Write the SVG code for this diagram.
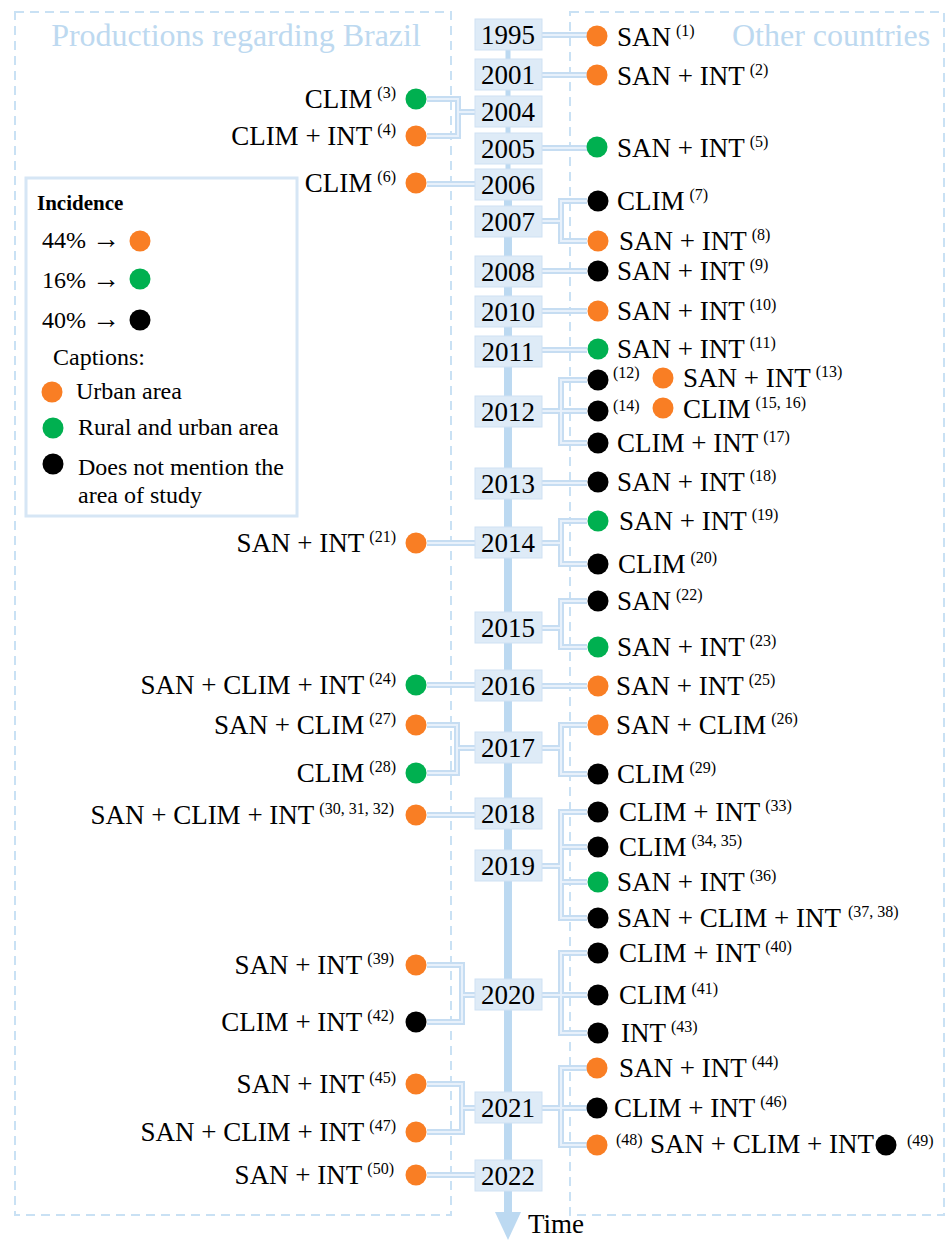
<svg xmlns="http://www.w3.org/2000/svg" xmlns:xlink="http://www.w3.org/1999/xlink" width="946" height="1240" viewBox="0 0 946 1240">
<style>
text{font-family:"Liberation Serif","Tinos","Times New Roman","DejaVu Serif","Noto Serif",serif;fill:#000}
.lb{font-size:27px}
.end{text-anchor:end}
.sup{font-size:16px}
.yt{font-size:27px;text-anchor:middle}
.yb{fill:#deebf7;stroke:#cfe1f3;stroke-width:1}
.o{fill:#f97e24}
.g{fill:#00b050}
.k{fill:#000}
.panel{fill:none;stroke:#c9e1f4;stroke-width:2;stroke-dasharray:9 6}
.title{font-size:32px;fill:#bdd9f0;text-anchor:middle}
.lg{font-size:24px}
.arr{font-size:28px}
</style>
<rect width="946" height="1240" fill="#fff"/>
<g id="panels">
<rect class="panel" x="15" y="12" width="436" height="1203"/>
<rect class="panel" x="570" y="12" width="374" height="1203"/>
<text class="title" x="236" y="46">Productions regarding Brazil</text>
<text class="title" x="831" y="46">Other countries</text>
</g>
<g id="axis">
<line x1="508" y1="20" x2="508" y2="200" stroke="#bcd9f1" stroke-width="5"/>
<line x1="508" y1="200" x2="508" y2="1215" stroke="#bcd9f1" stroke-width="8"/>
<polygon points="495,1212 521,1212 508,1240" fill="#bcd9f1"/>
<text class="lb" x="528" y="1233">Time</text>
</g>
<g id="connectors" fill="none" stroke="#c6ddf2" stroke-width="6">
<g id="connPaths">
<path d="M427 99 H458 V136 H427 M458 112 H475"/>
<path d="M427 184 H475"/>
<path d="M427 543 H475"/>
<path d="M427 685 H475"/>
<path d="M427 725 H457 V773 H427 M457 748 H475"/>
<path d="M427 815 H475"/>
<path d="M427 965 H462 V1022 H427 M462 995 H475"/>
<path d="M427 1084 H462 V1132 H427 M462 1108 H475"/>
<path d="M427 1175 H475"/>
<path d="M542 35 H587"/>
<path d="M542 75 H587"/>
<path d="M542 148 H587"/>
<path d="M542 221 H561 M587 201 H561 V241 H587"/>
<path d="M542 271 H587"/>
<path d="M542 311 H587"/>
<path d="M542 350 H587"/>
<path d="M542 411 H587 M587 380 H561 V443 H587"/>
<path d="M542 483 H587"/>
<path d="M542 543 H561 M587 521 H561 V564 H587"/>
<path d="M542 628 H561 M587 601 H561 V647 H587"/>
<path d="M542 686 H587"/>
<path d="M542 748 H561 M587 725 H561 V774 H587"/>
<path d="M542 866 H561 M587 812 H561 V918 H587 M561 847 H587 M561 882 H587"/>
<path d="M542 995 H587 M587 953 H561 V1033 H587"/>
<path d="M542 1108 H587 M587 1068 H561 V1145 H587"/>
</g>
<use xlink:href="#connPaths" stroke="#e8f1fb" stroke-width="2"/>
</g>
<g id="years">
<g id="y1995"><rect class="yb" x="475" y="19" width="67" height="31"/><text class="yt" x="508" y="44">1995</text></g>
<g id="y2001"><rect class="yb" x="475" y="59" width="67" height="31"/><text class="yt" x="508" y="84">2001</text></g>
<g id="y2004"><rect class="yb" x="475" y="96" width="67" height="31"/><text class="yt" x="508" y="121">2004</text></g>
<g id="y2005"><rect class="yb" x="475" y="133" width="67" height="31"/><text class="yt" x="508" y="158">2005</text></g>
<g id="y2006"><rect class="yb" x="475" y="169" width="67" height="31"/><text class="yt" x="508" y="194">2006</text></g>
<g id="y2007"><rect class="yb" x="475" y="206" width="67" height="31"/><text class="yt" x="508" y="231">2007</text></g>
<g id="y2008"><rect class="yb" x="475" y="256" width="67" height="31"/><text class="yt" x="508" y="281">2008</text></g>
<g id="y2010"><rect class="yb" x="475" y="296" width="67" height="31"/><text class="yt" x="508" y="321">2010</text></g>
<g id="y2011"><rect class="yb" x="475" y="336" width="67" height="31"/><text class="yt" x="508" y="361">2011</text></g>
<g id="y2012"><rect class="yb" x="475" y="396" width="67" height="31"/><text class="yt" x="508" y="421">2012</text></g>
<g id="y2013"><rect class="yb" x="475" y="468" width="67" height="31"/><text class="yt" x="508" y="493">2013</text></g>
<g id="y2014"><rect class="yb" x="475" y="527" width="67" height="31"/><text class="yt" x="508" y="552">2014</text></g>
<g id="y2015"><rect class="yb" x="475" y="612" width="67" height="31"/><text class="yt" x="508" y="637">2015</text></g>
<g id="y2016"><rect class="yb" x="475" y="670" width="67" height="31"/><text class="yt" x="508" y="695">2016</text></g>
<g id="y2017"><rect class="yb" x="475" y="732" width="67" height="31"/><text class="yt" x="508" y="757">2017</text></g>
<g id="y2018"><rect class="yb" x="475" y="798" width="67" height="31"/><text class="yt" x="508" y="823">2018</text></g>
<g id="y2019"><rect class="yb" x="475" y="850" width="67" height="31"/><text class="yt" x="508" y="875">2019</text></g>
<g id="y2020"><rect class="yb" x="475" y="979" width="67" height="31"/><text class="yt" x="508" y="1004">2020</text></g>
<g id="y2021"><rect class="yb" x="475" y="1092" width="67" height="31"/><text class="yt" x="508" y="1117">2021</text></g>
<g id="y2022"><rect class="yb" x="475" y="1160" width="67" height="31"/><text class="yt" x="508" y="1185">2022</text></g>
</g>
<g id="left-items">
<g id="ref3"><circle class="g" cx="416" cy="99" r="10.5"/><text class="lb end" x="396" y="108">CLIM<tspan class="sup" dx="5" dy="-10">(3)</tspan></text></g>
<g id="ref4"><circle class="o" cx="416" cy="136" r="10.5"/><text class="lb end" x="396" y="145">CLIM + INT<tspan class="sup" dx="5" dy="-10">(4)</tspan></text></g>
<g id="ref6"><circle class="o" cx="416" cy="183" r="10.5"/><text class="lb end" x="396" y="192">CLIM<tspan class="sup" dx="5" dy="-10">(6)</tspan></text></g>
<g id="ref21"><circle class="o" cx="416" cy="543" r="10.5"/><text class="lb end" x="396" y="552">SAN + INT<tspan class="sup" dx="5" dy="-10">(21)</tspan></text></g>
<g id="ref24"><circle class="g" cx="416" cy="685" r="10.5"/><text class="lb end" x="396" y="694">SAN + CLIM + INT<tspan class="sup" dx="5" dy="-10">(24)</tspan></text></g>
<g id="ref27"><circle class="o" cx="416" cy="725" r="10.5"/><text class="lb end" x="396" y="734">SAN + CLIM<tspan class="sup" dx="5" dy="-10">(27)</tspan></text></g>
<g id="ref28"><circle class="g" cx="416" cy="773" r="10.5"/><text class="lb end" x="396" y="782">CLIM<tspan class="sup" dx="5" dy="-10">(28)</tspan></text></g>
<g id="ref30"><circle class="o" cx="416" cy="815" r="10.5"/><text class="lb end" x="394" y="824">SAN + CLIM + INT<tspan class="sup" dx="5" dy="-10">(30, 31, 32)</tspan></text></g>
<g id="ref39"><circle class="o" cx="416" cy="965" r="10.5"/><text class="lb end" x="394" y="974">SAN + INT<tspan class="sup" dx="5" dy="-10">(39)</tspan></text></g>
<g id="ref42"><circle class="k" cx="416" cy="1022" r="10.5"/><text class="lb end" x="394" y="1031">CLIM + INT<tspan class="sup" dx="5" dy="-10">(42)</tspan></text></g>
<g id="ref45"><circle class="o" cx="416" cy="1084" r="10.5"/><text class="lb end" x="396" y="1093">SAN + INT<tspan class="sup" dx="5" dy="-10">(45)</tspan></text></g>
<g id="ref47"><circle class="o" cx="416" cy="1132" r="10.5"/><text class="lb end" x="396" y="1141">SAN + CLIM + INT<tspan class="sup" dx="5" dy="-10">(47)</tspan></text></g>
<g id="ref50"><circle class="o" cx="416" cy="1175" r="10.5"/><text class="lb end" x="394" y="1184">SAN + INT<tspan class="sup" dx="5" dy="-10">(50)</tspan></text></g>
</g>
<g id="right-items">
<g id="ref1"><circle class="o" cx="597" cy="36" r="10.5"/><text class="lb" x="617" y="46">SAN<tspan class="sup" dx="5" dy="-10">(1)</tspan></text></g>
<g id="ref2"><circle class="o" cx="597" cy="75" r="10.5"/><text class="lb" x="617" y="85">SAN + INT<tspan class="sup" dx="5" dy="-10">(2)</tspan></text></g>
<g id="ref5"><circle class="g" cx="597" cy="147" r="10.5"/><text class="lb" x="617" y="157">SAN + INT<tspan class="sup" dx="5" dy="-10">(5)</tspan></text></g>
<g id="ref7"><circle class="k" cx="598" cy="201" r="10.5"/><text class="lb" x="617" y="210">CLIM<tspan class="sup" dx="5" dy="-10">(7)</tspan></text></g>
<g id="ref8"><circle class="o" cx="598" cy="241" r="10.5"/><text class="lb" x="619" y="250">SAN + INT<tspan class="sup" dx="5" dy="-10">(8)</tspan></text></g>
<g id="ref9"><circle class="k" cx="598" cy="271" r="10.5"/><text class="lb" x="617" y="280">SAN + INT<tspan class="sup" dx="5" dy="-10">(9)</tspan></text></g>
<g id="ref10"><circle class="o" cx="598" cy="311" r="10.5"/><text class="lb" x="617" y="320">SAN + INT<tspan class="sup" dx="5" dy="-10">(10)</tspan></text></g>
<g id="ref11"><circle class="g" cx="598" cy="349" r="10.5"/><text class="lb" x="617" y="358">SAN + INT<tspan class="sup" dx="5" dy="-10">(11)</tspan></text></g>
<g id="ref12"><circle class="k" cx="598" cy="380" r="10.5"/><text class="sup" x="613" y="378">(12)</text></g>
<g id="ref13"><circle class="o" cx="663" cy="378" r="10.5"/><text class="lb" x="683" y="387">SAN + INT<tspan class="sup" dx="5" dy="-10">(13)</tspan></text></g>
<g id="ref14"><circle class="k" cx="598" cy="411" r="10.5"/><text class="sup" x="613" y="411">(14)</text></g>
<g id="ref15"><circle class="o" cx="663" cy="408" r="10.5"/><text class="lb" x="683" y="418">CLIM<tspan class="sup" dx="5" dy="-10">(15, 16)</tspan></text></g>
<g id="ref17"><circle class="k" cx="598" cy="443" r="10.5"/><text class="lb" x="617" y="452">CLIM + INT<tspan class="sup" dx="5" dy="-10">(17)</tspan></text></g>
<g id="ref18"><circle class="k" cx="598" cy="482" r="10.5"/><text class="lb" x="617" y="491">SAN + INT<tspan class="sup" dx="5" dy="-10">(18)</tspan></text></g>
<g id="ref19"><circle class="g" cx="598" cy="521" r="10.5"/><text class="lb" x="619" y="530">SAN + INT<tspan class="sup" dx="5" dy="-10">(19)</tspan></text></g>
<g id="ref20"><circle class="k" cx="598" cy="564" r="10.5"/><text class="lb" x="618" y="573">CLIM<tspan class="sup" dx="5" dy="-10">(20)</tspan></text></g>
<g id="ref22"><circle class="k" cx="598" cy="601" r="10.5"/><text class="lb" x="617" y="610">SAN<tspan class="sup" dx="5" dy="-10">(22)</tspan></text></g>
<g id="ref23"><circle class="g" cx="598" cy="647" r="10.5"/><text class="lb" x="617" y="656">SAN + INT<tspan class="sup" dx="5" dy="-10">(23)</tspan></text></g>
<g id="ref25"><circle class="o" cx="598" cy="686" r="10.5"/><text class="lb" x="616" y="695">SAN + INT<tspan class="sup" dx="5" dy="-10">(25)</tspan></text></g>
<g id="ref26"><circle class="o" cx="598" cy="725" r="10.5"/><text class="lb" x="616" y="734">SAN + CLIM<tspan class="sup" dx="5" dy="-10">(26)</tspan></text></g>
<g id="ref29"><circle class="k" cx="598" cy="774" r="10.5"/><text class="lb" x="617" y="783">CLIM<tspan class="sup" dx="5" dy="-10">(29)</tspan></text></g>
<g id="ref33"><circle class="k" cx="598" cy="812" r="10.5"/><text class="lb" x="619" y="821">CLIM + INT<tspan class="sup" dx="5" dy="-10">(33)</tspan></text></g>
<g id="ref34"><circle class="k" cx="598" cy="847" r="10.5"/><text class="lb" x="619" y="856">CLIM<tspan class="sup" dx="5" dy="-10">(34, 35)</tspan></text></g>
<g id="ref36"><circle class="g" cx="598" cy="882" r="10.5"/><text class="lb" x="617" y="891">SAN + INT<tspan class="sup" dx="5" dy="-10">(36)</tspan></text></g>
<g id="ref37"><circle class="k" cx="598" cy="918" r="10.5"/><text class="lb" x="617" y="927">SAN + CLIM + INT<tspan class="sup" dx="7" dy="-10">(37, 38)</tspan></text></g>
<g id="ref40"><circle class="k" cx="598" cy="953" r="10.5"/><text class="lb" x="619" y="962">CLIM + INT<tspan class="sup" dx="5" dy="-10">(40)</tspan></text></g>
<g id="ref41"><circle class="k" cx="598" cy="995" r="10.5"/><text class="lb" x="619" y="1004">CLIM<tspan class="sup" dx="5" dy="-10">(41)</tspan></text></g>
<g id="ref43"><circle class="k" cx="598" cy="1033" r="10.5"/><text class="lb" x="621" y="1042">INT<tspan class="sup" dx="5" dy="-10">(43)</tspan></text></g>
<g id="ref44"><circle class="o" cx="597" cy="1068" r="10.5"/><text class="lb" x="619" y="1077">SAN + INT<tspan class="sup" dx="5" dy="-10">(44)</tspan></text></g>
<g id="ref46"><circle class="k" cx="597" cy="1108" r="10.5"/><text class="lb" x="614" y="1117">CLIM + INT<tspan class="sup" dx="5" dy="-10">(46)</tspan></text></g>
<g id="ref48"><circle class="o" cx="597" cy="1145" r="10.5"/><text class="sup" x="616" y="1145">(48)</text><text class="lb" x="650" y="1153">SAN + CLIM + INT</text></g>
<g id="ref49"><circle class="k" cx="886" cy="1145" r="10.5"/><text class="sup" x="907" y="1146">(49)</text></g>
</g>
<g id="legend">
<rect x="26" y="178" width="271" height="338" fill="#fff" stroke="#d6e6f5" stroke-width="3"/>
<text x="37" y="210" font-weight="bold" style="font-size:21px">Incidence</text>
<text class="lg" x="42" y="248">44% <tspan class="arr">→</tspan></text><circle class="o" cx="140" cy="241" r="10.5"/>
<text class="lg" x="42" y="288">16% <tspan class="arr">→</tspan></text><circle class="g" cx="140" cy="279" r="10.5"/>
<text class="lg" x="42" y="328">40% <tspan class="arr">→</tspan></text><circle class="k" cx="140" cy="320" r="10.5"/>
<text class="lg" x="53" y="365">Captions:</text>
<circle class="o" cx="52" cy="392" r="10.5"/><text class="lg" x="76" y="399">Urban area</text>
<circle class="g" cx="53" cy="428" r="10.5"/><text class="lg" x="78" y="435">Rural and urban area</text>
<circle class="k" cx="53" cy="464" r="10.5"/><text class="lg" x="78" y="475">Does not mention the</text>
<text class="lg" x="78" y="503">area of study</text>
</g>
</svg>
